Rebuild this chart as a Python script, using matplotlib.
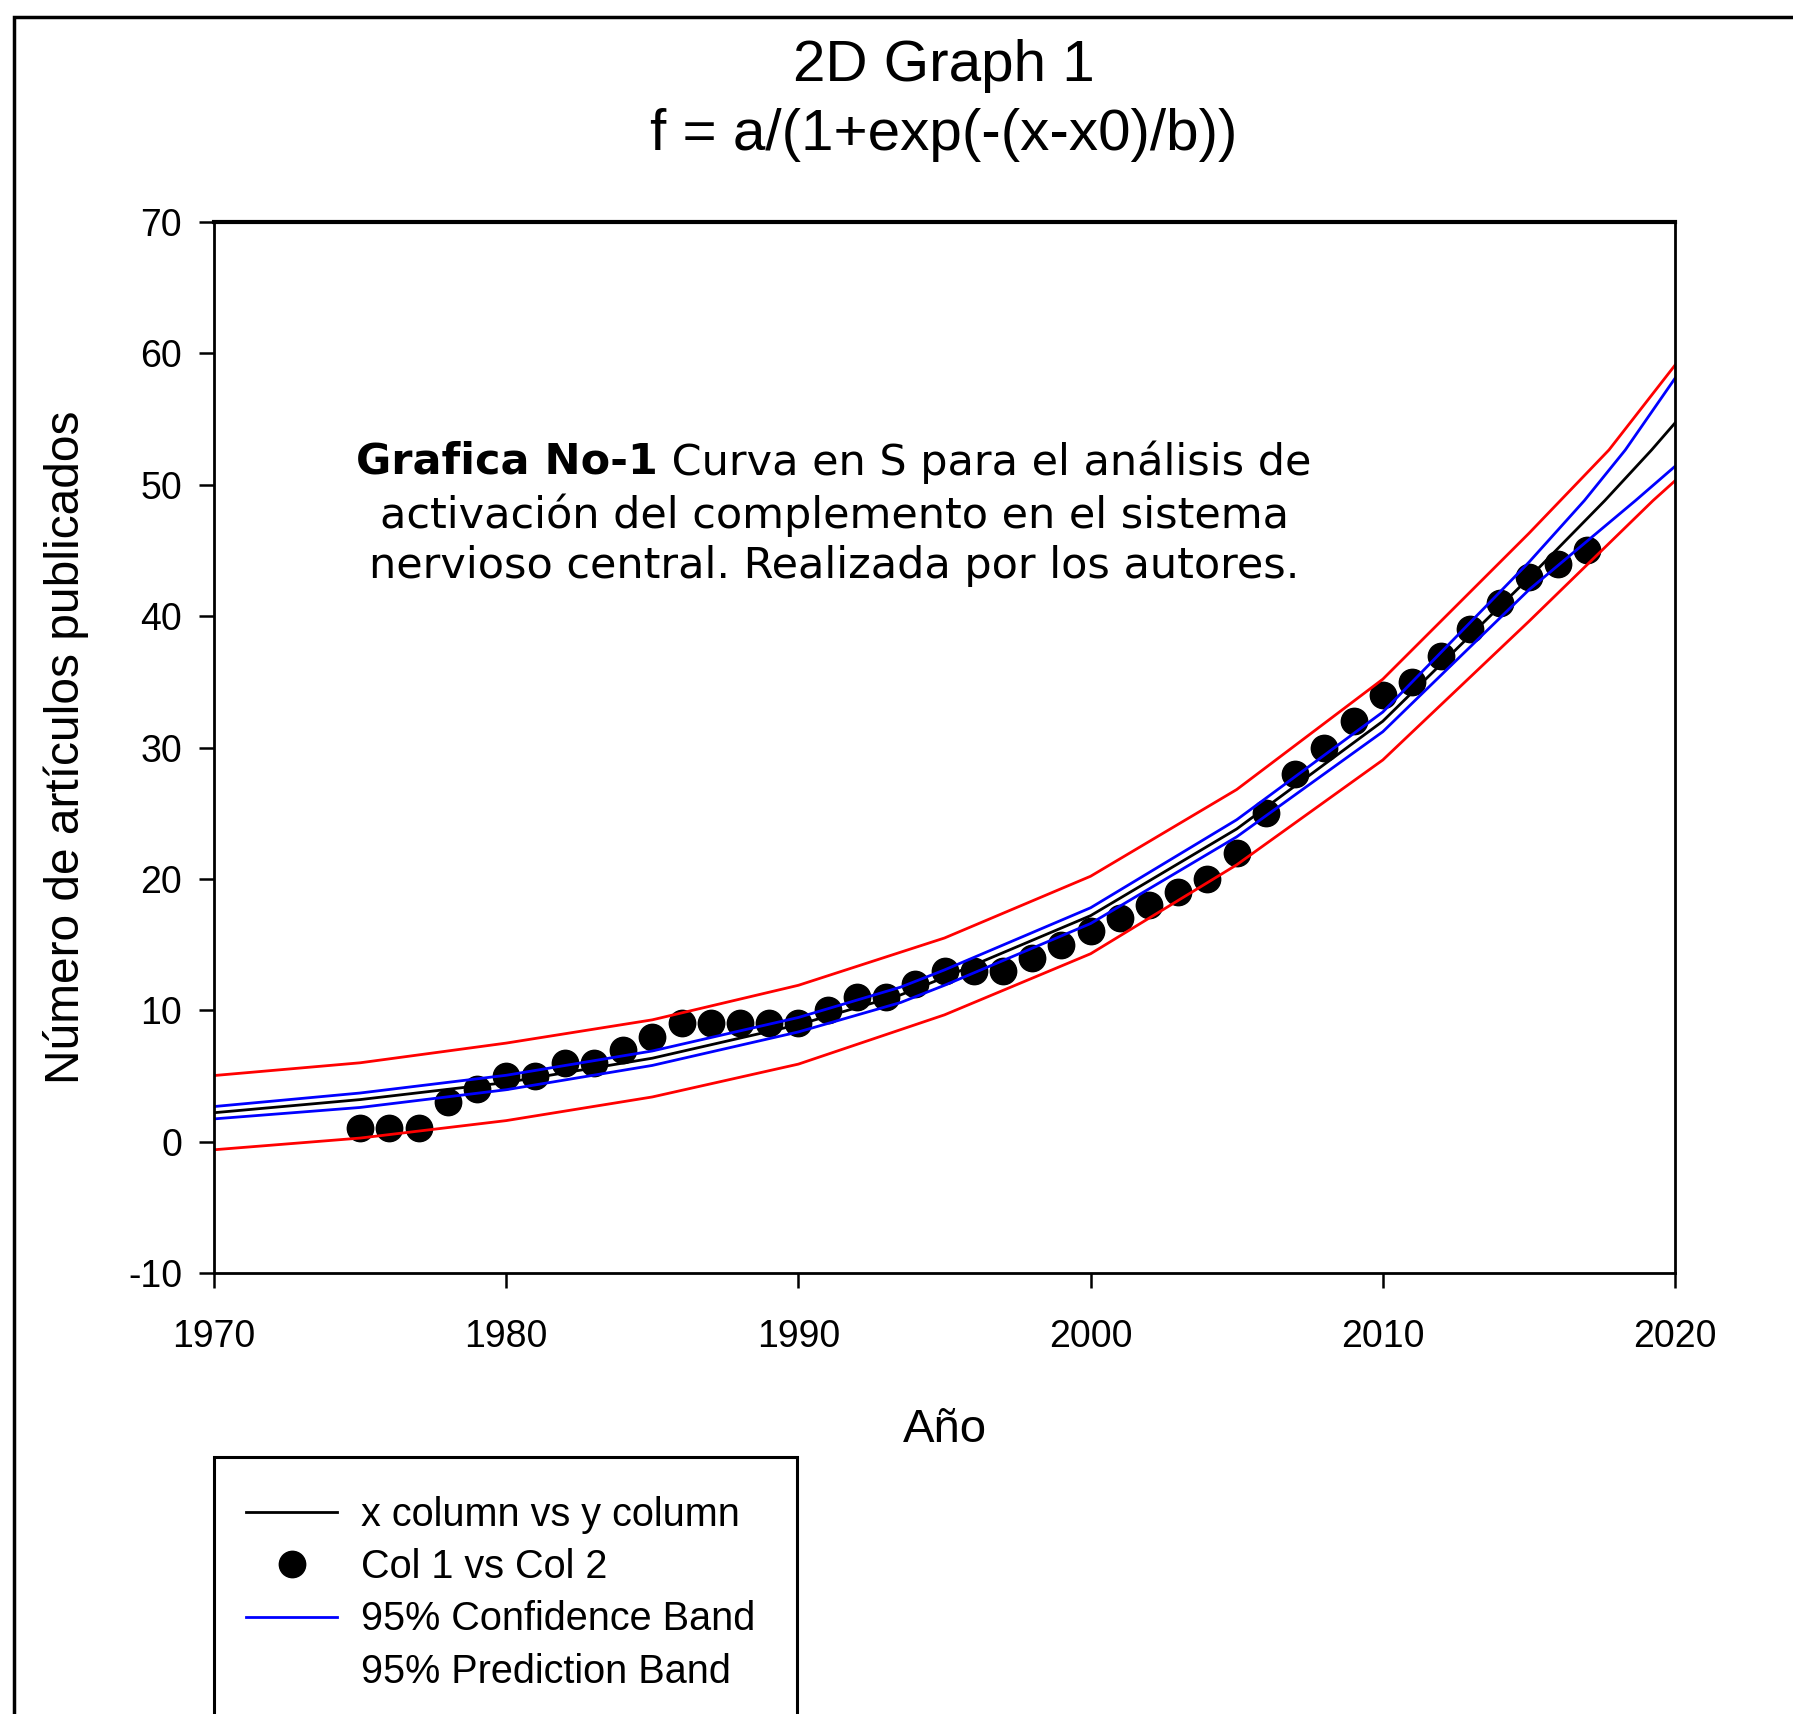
import matplotlib
matplotlib.use('Agg')
from matplotlib import pyplot as plt
from matplotlib.lines import Line2D
from matplotlib.patches import Rectangle

# datos: articulos publicados por anio
anios = list(range(1975, 2018))
articulos = [1, 1, 1, 3, 4, 5, 5, 6, 6, 7, 8, 9, 9, 9, 9, 9, 10, 11, 11, 12,
             13, 13, 13, 14, 15, 16, 17, 18, 19, 20, 22, 25, 28, 30, 32, 34,
             35, 37, 39, 41, 43, 44, 45]

# curva ajustada y bandas
x_ajuste = [1970, 1975, 1980, 1985, 1990, 1993.5, 1995, 2000, 2005, 2010, 2015, 2017.6, 2019.2, 2020]
ajuste = [2.2, 3.2, 4.5, 6.35, 8.9, 11.17, 12.5, 17.2, 23.8, 32.0, 42.9, 48.8, 52.65, 54.7]
x_conf_sup = [1970, 1975, 1980, 1985, 1990, 1993.5, 1995, 2000, 2005, 2010, 2015, 2016.9, 2018.3, 2020]
conf_sup = [2.67, 3.7, 5.05, 6.9, 9.45, 11.76, 13.07, 17.8, 24.5, 32.7, 44.1, 48.8, 52.65, 58.1]
x_conf_inf = [1970, 1975, 1980, 1985, 1990, 1993.5, 1995, 2000, 2005, 2010, 2015, 2018.65, 2020]
conf_inf = [1.73, 2.6, 3.95, 5.8, 8.35, 10.59, 11.9, 16.6, 23.2, 31.2, 42.0, 48.8, 51.4]
x_pred_sup = [1970, 1975, 1980, 1985, 1990, 1995, 2000, 2005, 2010, 2015, 2017.74, 2020]
pred_sup = [5.03, 6.0, 7.5, 9.27, 11.9, 15.5, 20.2, 26.8, 35.2, 46.3, 52.65, 59.1]
x_pred_inf = [1970, 1975, 1980, 1985, 1990, 1995, 2000, 2005, 2010, 2015, 2019.25, 2020]
pred_inf = [-0.62, 0.27, 1.6, 3.4, 5.9, 9.65, 14.3, 21.07, 29.05, 39.6, 48.8, 50.3]

etiquetas = ['x column vs y column', 'Col 1 vs Col 2',
             '95% Confidence Band', '95% Prediction Band']

plt.rcParams['font.family'] = ['Liberation Sans', 'DejaVu Sans']
plt.rcParams['axes.unicode_minus'] = False

W, H = 1793, 1714
fig = plt.figure(figsize=(W / 100, H / 100), dpi=100)
ax = fig.add_axes([214 / W, 1 - 1273 / H, (1675 - 214) / W, (1273 - 222) / H])

lw = 2.0
ax.plot(x_ajuste, ajuste, color='black', lw=lw)
ax.plot(anios, articulos, 'o', color='black', ms=19)
ax.plot(x_conf_sup, conf_sup, color='#0000ff', lw=lw)
ax.plot(x_conf_inf, conf_inf, color='#0000ff', lw=lw)
ax.plot(x_pred_sup, pred_sup, color='#ff0000', lw=lw)
ax.plot(x_pred_inf, pred_inf, color='#ff0000', lw=lw)

ax.set_xlim(1970, 2020)
ax.set_ylim(-10, 70)
ax.set_xticks(range(1970, 2021, 10))
ax.set_yticks(range(-10, 71, 10))
ax.tick_params(axis='both', direction='out', length=11, width=1.8, labelsize=27)
ax.tick_params(axis='x', pad=22)
ax.tick_params(axis='y', pad=12)
for s in ax.spines.values():
    s.set_linewidth(2)
ax.spines['top'].set_linewidth(3)

ax.set_xlabel('Año', fontsize=34, labelpad=38)
ax.set_ylabel('Número de artículos publicados', fontsize=34.5, labelpad=28)

fig.text(944 / W, 1 - 66 / H, '2D Graph 1', ha='center', va='center', fontsize=42)
fig.text(944 / W, 1 - 135 / H, 'f = a/(1+exp(-(x-x0)/b))', ha='center',
         va='center', fontsize=42)

# texto descriptivo dentro del grafico
fs_txt = 31
fam_txt = 'DejaVu Sans'
cx = 834
t_b = fig.text(0, 1 - 462 / H, 'Grafica No-1', weight='bold', fontsize=fs_txt,
               family=fam_txt, ha='left', va='center')
t_n = fig.text(0, 1 - 462 / H, ' Curva en S para el análisis de', fontsize=fs_txt,
               family=fam_txt, ha='left', va='center')
fig.text(cx / W, 1 - 515 / H, 'activación del complemento en el sistema',
         fontsize=fs_txt, family=fam_txt, ha='center', va='center')
fig.text(cx / W, 1 - 566 / H, 'nervioso central. Realizada por los autores.',
         fontsize=fs_txt, family=fam_txt, ha='center', va='center')
fig.canvas.draw()
r = fig.canvas.get_renderer()
wb = t_b.get_window_extent(r).width
wn = t_n.get_window_extent(r).width
x0 = cx - (wb + wn) / 2
t_b.set_x(x0 / W)
t_n.set_x((x0 + wb) / W)

# leyenda (el marco queda cortado abajo como en el original)
manijas = [Line2D([], [], color='black', lw=lw),
           Line2D([], [], color='black', marker='o', ls='none', ms=19),
           Line2D([], [], color='#0000ff', lw=lw),
           Line2D([], [], ls='none')]
leg = fig.legend(manijas, etiquetas, loc='upper left',
                 bbox_to_anchor=(246 / W, 1 - 1496 / H), fontsize=28.5,
                 frameon=False, borderpad=0, borderaxespad=0,
                 handlelength=2.3, handletextpad=0.6, labelspacing=0.36)
fig.patches.append(Rectangle((214 / W, -0.05), (797 - 214) / W,
                             1 - 1457 / H + 0.05, transform=fig.transFigure,
                             fill=False, edgecolor='black', lw=2.2))

# marco de la figura
fig.patches.append(Rectangle((14 / W, -0.05), 1.2, 1 - 17 / H + 0.05,
                             transform=fig.transFigure, fill=False,
                             edgecolor='black', lw=2.5))

fig.savefig('out.png', dpi=100)
